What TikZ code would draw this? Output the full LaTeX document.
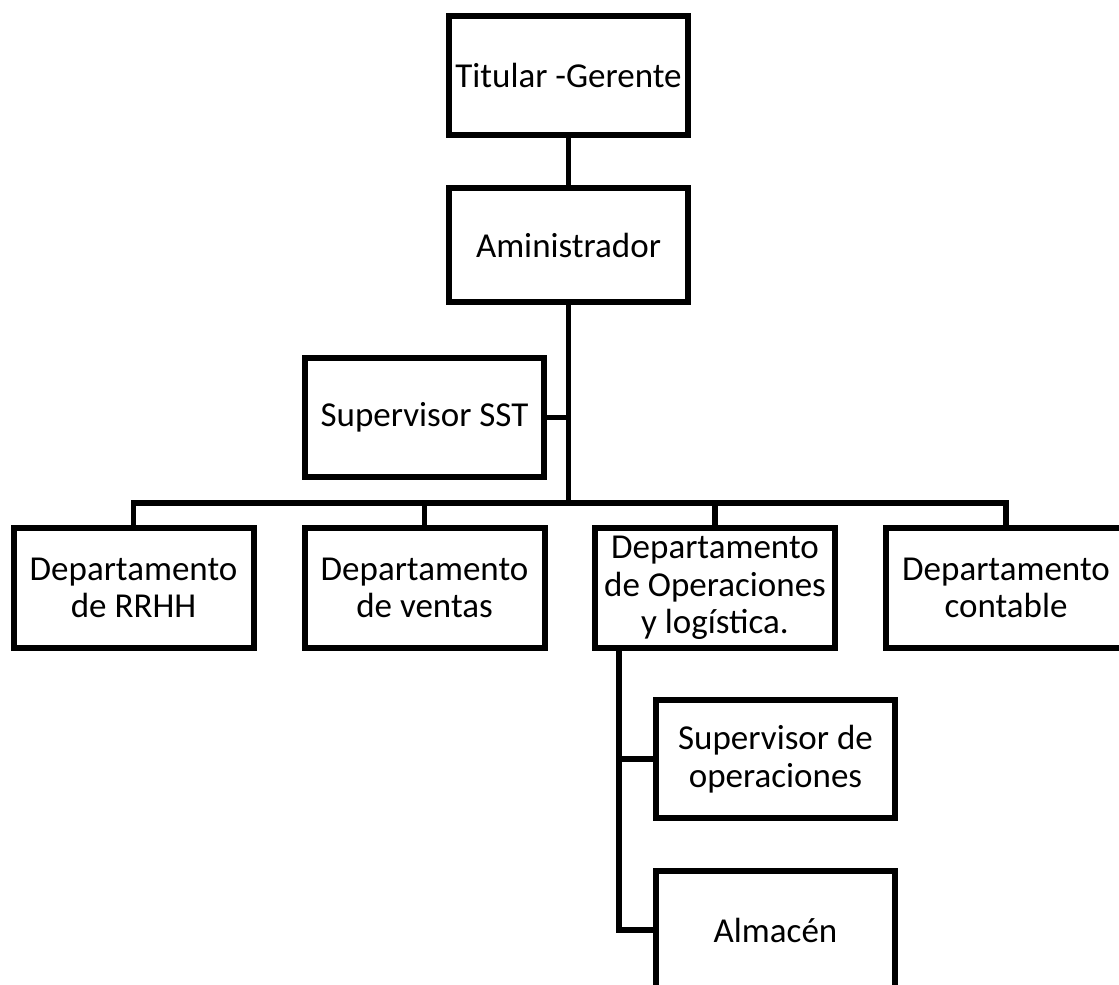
\documentclass[tikz,border=0pt]{standalone}
\usepackage{fontspec}
\setmainfont{Carlito}
\begin{document}
\begin{tikzpicture}[x=1pt, y=-1pt,
        caja/.style={draw, line width=6pt, outer sep=0pt, inner sep=0pt,
            minimum width=239pt, minimum height=119pt, align=center,
            font=\fontsize{35}{37.5}\selectfont},
        depto/.style={caja, minimum width=240pt, minimum height=120pt},
        linea/.style={line width=5.5pt}]

        % 画布大小
        \useasboundingbox (0,0) rectangle (1119,985);
        \clip (0,0) rectangle (1119,985);

        % 上层
        \node[caja] (titular) at (568.5,75.5) {Titular -Gerente};
        \node[caja, minimum height=114pt] (admin) at (568.5,245) {Aministrador};
        \node[caja] (sst) at (424.5,417.5) {Supervisor SST};

        % 四个部门
        \node[depto] (rrhh) at (133.5,588) {Departamento\\de RRHH};
        \node[depto] (ventas) at (424.5,588) {Departamento\\de ventas};
        \node[depto] (ops) at (715,588) {Departamento\\de Operaciones\\y logística.};
        \node[depto] (contable) at (1006,588) {Departamento\\contable}; % 右边超出画布

        % 下层
        \node[caja, minimum height=118pt] (supop) at (775.5,759) {Supervisor de\\operaciones};
        \node[caja] (almacen) at (775.5,930) {Almacén};

        % 连线
        \coordinate (bus) at (570,503);
        \draw[linea] (titular) -- (admin);
        \draw[linea] (admin.south) -- (admin.south |- bus);
        \draw[linea] (sst.east) -- (sst.east -| admin.south);
        \draw[linea] (rrhh.north) |- (bus) -| (contable.north);
        \foreach \d in {ventas, ops} {
            \draw[linea] (\d.north) -- (\d.north |- bus);
        }
        \draw[linea] ([xshift=24pt]ops.south west) |- (supop.west);
        \draw[linea] ([xshift=24pt]ops.south west) |- (almacen.west);

\end{tikzpicture}
\end{document}
